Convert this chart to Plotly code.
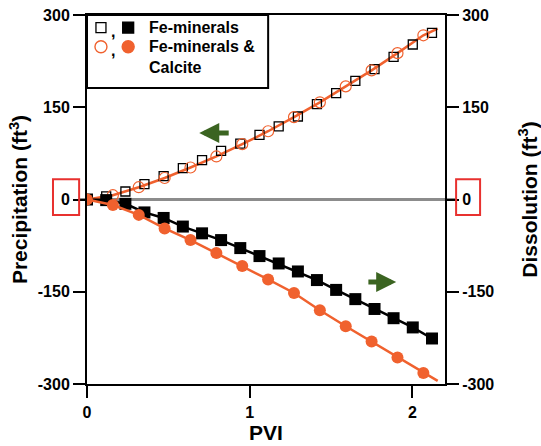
import plotly.graph_objects as go

# ---------------- data ----------------
pvi_sq = [0.0, 0.118, 0.236, 0.353, 0.471, 0.589, 0.707, 0.824, 0.942, 1.06,
          1.178, 1.296, 1.413, 1.531, 1.649, 1.767, 1.884, 2.002, 2.12]
precip_fe = [0, 5, 13, 25, 38, 51, 64, 79, 91, 105, 119, 135, 155, 173, 193, 212, 232, 252, 271]
dissol_fe = [0, -1, -7, -21, -30, -44, -55, -66, -79, -92, -104, -117, -131, -147, -162, -178, -193, -208, -226]

pvi_ci = [0.0, 0.159, 0.318, 0.477, 0.636, 0.795, 0.954, 1.113, 1.272, 1.431,
          1.59, 1.749, 1.908, 2.067]
precip_fecal = [0, 7, 20, 35, 52, 70, 90, 111, 134, 158, 184, 210, 238, 267]
dissol_fecal = [0, -9, -25, -47, -66, -87, -108, -130, -152, -180, -206, -231, -257, -282]

# line end points (lines run slightly beyond the last marker)
pvi_line_end = 2.155
precip_line_end = 278
dissol_line_end = -295

y_ticks = [-300, -150, 0, 150, 300]
y_ticktext = ["-300", "-150", "0", "150", "300"]
x_ticks = [0, 1, 2]

ORANGE = "#F0612E"
GREEN = "#3B6421"
RED = "#E8312F"
GRAY = "#8C8C8C"
FONT = "Liberation Sans, Arial, sans-serif"

fig = go.Figure()

# orange lines (through circles)
fig.add_trace(go.Scatter(x=pvi_ci + [pvi_line_end], y=precip_fecal + [precip_line_end],
                         mode="lines", line=dict(color=ORANGE, width=2.5), yaxis="y"))
# open squares (precipitation, Fe-minerals)
fig.add_trace(go.Scatter(x=pvi_sq, y=precip_fe, mode="markers", yaxis="y",
                         marker=dict(symbol="square-open", size=9, color="black", opacity=1,
                                     line=dict(width=1.3, color="black"))))
# open circles (precipitation, Fe-minerals & calcite)
fig.add_trace(go.Scatter(x=pvi_ci, y=precip_fecal, mode="markers", yaxis="y",
                         marker=dict(symbol="circle-open", size=11, color=ORANGE, opacity=1,
                                     line=dict(width=1.2, color=ORANGE))))
# dissolution Fe-minerals: black line + filled squares
fig.add_trace(go.Scatter(x=pvi_sq, y=dissol_fe, mode="lines+markers", yaxis="y2",
                         line=dict(color="black", width=2.5),
                         marker=dict(symbol="square", size=12, color="black", opacity=1,
                                     line=dict(width=0))))
# dissolution Fe-minerals & calcite: orange line + filled circles
fig.add_trace(go.Scatter(x=pvi_ci + [pvi_line_end], y=dissol_fecal + [dissol_line_end],
                         mode="lines", yaxis="y2", line=dict(color=ORANGE, width=2.5)))
fig.add_trace(go.Scatter(x=pvi_ci, y=dissol_fecal, mode="markers", yaxis="y2",
                         marker=dict(symbol="circle", size=12, color=ORANGE, opacity=1,
                                     line=dict(width=0))))

# legend markers on an overlay paper-like axis
fig.add_trace(go.Scatter(x=[0.039, 0.115], y=[0.966, 0.966], mode="markers",
                         marker=dict(symbol=["square-open", "square"], size=[10, 11], color="black",
                                     opacity=1, line=dict(width=1.3, color="black"))))
fig.add_trace(go.Scatter(x=[0.039, 0.115], y=[0.914, 0.914], mode="markers",
                         marker=dict(symbol=["circle-open", "circle"], size=[12, 12], color=ORANGE,
                                     opacity=1, line=dict(width=1.4, color=ORANGE))))
fig.data[-1].update(xaxis="x3", yaxis="y3")
fig.data[-2].update(xaxis="x3", yaxis="y3")

tickfont = dict(family=FONT, size=16, color="black")
titlefont = dict(family=FONT, size=21, color="black")
axis_common = dict(showline=True, linecolor="black", linewidth=2, ticks="outside",
                   ticklen=12, tickwidth=2, tickcolor="black", showgrid=False,
                   zeroline=False, tickfont=tickfont, automargin=False)

fig.update_layout(
    width=541, height=446,
    margin=dict(l=87, r=96, t=15, b=62),
    paper_bgcolor="white", plot_bgcolor="white",
    showlegend=False,
    font=dict(family=FONT, color="black"),
    xaxis=dict(range=[0, 2.2], tickvals=x_ticks, mirror=True, ticklabelstandoff=1,
               ticktext=["<b>%d</b>" % v for v in x_ticks],
               title=dict(text="<b>PVI</b>", font=titlefont, standoff=5),
               **axis_common),
    yaxis=dict(range=[-300, 300], tickvals=y_ticks,
               ticktext=["<b>%s</b>" % t for t in y_ticktext],
               title=dict(text="<b>Precipitation (ft<sup>3</sup>)</b>", font=titlefont, standoff=4),
               **axis_common),
    yaxis2=dict(range=[-300, 300], tickvals=y_ticks, overlaying="y", side="right",
                ticktext=["<b>%s</b>" % t for t in y_ticktext],
                title=dict(text="<b>Dissolution (ft<sup>3</sup>)</b>", font=titlefont, standoff=30),
                **axis_common),
    xaxis3=dict(range=[0, 1], domain=[0, 1], visible=False, overlaying="x", fixedrange=True),
    yaxis3=dict(range=[0, 1], domain=[0, 1], visible=False, overlaying="y", anchor="x3", fixedrange=True),
)

# zero line
fig.add_shape(type="line", xref="paper", yref="y", x0=-0.022, x1=1.028, y0=0, y1=0,
              line=dict(color=GRAY, width=3), layer="below")
# red boxes around 0 labels
fig.add_shape(type="rect", xref="paper", yref="paper", x0=-0.095, x1=-0.022, y0=0.458, y1=0.555,
              line=dict(color=RED, width=2), fillcolor="rgba(0,0,0,0)")
fig.add_shape(type="rect", xref="paper", yref="paper", x0=1.031, x1=1.098, y0=0.458, y1=0.555,
              line=dict(color=RED, width=2), fillcolor="rgba(0,0,0,0)")
# legend box
fig.add_shape(type="rect", xref="paper", yref="paper", x0=0, x1=0.506, y0=0.802, y1=1,
              line=dict(color="black", width=2), fillcolor="white", layer="below")

legend_font = dict(family=FONT, size=16, color="black")
for txt, ypos in [("<b>Fe-minerals</b>", 0.966), ("<b>Fe-minerals &</b>", 0.914), ("<b>Calcite</b>", 0.857)]:
    fig.add_annotation(x=0.168, y=ypos, xref="paper", yref="paper", text=txt, showarrow=False,
                       xanchor="left", yanchor="middle", font=legend_font)
for ypos in [0.956, 0.904]:
    fig.add_annotation(x=0.072, y=ypos, xref="paper", yref="paper", text="<b>,</b>", showarrow=False,
                       xanchor="center", yanchor="middle", font=legend_font)

# green arrows
fig.add_annotation(x=0.69, y=108, ax=0.88, ay=108, xref="x", yref="y", axref="x", ayref="y",
                   text="", showarrow=True, arrowhead=2, arrowsize=0.8, arrowwidth=5, arrowcolor=GREEN)
fig.add_annotation(x=1.90, y=-134, ax=1.72, ay=-134, xref="x", yref="y", axref="x", ayref="y",
                   text="", showarrow=True, arrowhead=2, arrowsize=0.8, arrowwidth=5, arrowcolor=GREEN)

fig.write_html("out.html")
